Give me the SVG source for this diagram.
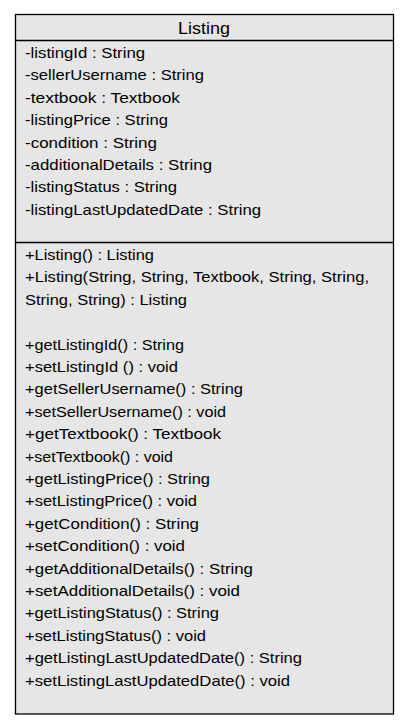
<svg xmlns="http://www.w3.org/2000/svg" width="404" height="724" viewBox="0 0 404 724">
<style>
.t{font-family:"Liberation Sans",Arial,sans-serif;font-size:15px;fill:#000}
.h{font-family:"Liberation Sans",Arial,sans-serif;font-size:17px;fill:#000;text-anchor:middle}
.b{fill:#e6e6e6;stroke:#000;stroke-width:1.3}
.l{stroke:#000;stroke-width:1.3}
</style>
<rect width="404" height="724" fill="#fff"/>
<g id="Listing">
<rect class="b" x="15.5" y="14.5" width="378" height="699.5"/>
<line class="l" x1="15.5" y1="40.5" x2="393.5" y2="40.5"/>
<line class="l" x1="15.5" y1="242.5" x2="393.5" y2="242.5"/>
<text class="h" x="204" y="34" textLength="52" lengthAdjust="spacingAndGlyphs">Listing</text>
<text class="t" x="25" y="58" textLength="120" lengthAdjust="spacingAndGlyphs">-listingId : String</text>
<text class="t" x="25" y="80.4" textLength="179" lengthAdjust="spacingAndGlyphs">-sellerUsername : String</text>
<text class="t" x="25" y="102.8" textLength="155" lengthAdjust="spacingAndGlyphs">-textbook : Textbook</text>
<text class="t" x="25" y="125.2" textLength="143" lengthAdjust="spacingAndGlyphs">-listingPrice : String</text>
<text class="t" x="25" y="147.6" textLength="132" lengthAdjust="spacingAndGlyphs">-condition : String</text>
<text class="t" x="25" y="170" textLength="187" lengthAdjust="spacingAndGlyphs">-additionalDetails : String</text>
<text class="t" x="25" y="192.4" textLength="152" lengthAdjust="spacingAndGlyphs">-listingStatus : String</text>
<text class="t" x="25" y="214.8" textLength="236" lengthAdjust="spacingAndGlyphs">-listingLastUpdatedDate : String</text>
<text class="t" x="25" y="260" textLength="129" lengthAdjust="spacingAndGlyphs">+Listing() : Listing</text>
<text class="t" x="25" y="282.4" textLength="344" lengthAdjust="spacingAndGlyphs">+Listing(String, String, Textbook, String, String,</text>
<text class="t" x="25" y="304.8" textLength="162" lengthAdjust="spacingAndGlyphs">String, String) : Listing</text>
<text class="t" x="25" y="349.6" textLength="159" lengthAdjust="spacingAndGlyphs">+getListingId() : String</text>
<text class="t" x="25" y="372" textLength="153" lengthAdjust="spacingAndGlyphs">+setListingId () : void</text>
<text class="t" x="25" y="394.4" textLength="218" lengthAdjust="spacingAndGlyphs">+getSellerUsername() : String</text>
<text class="t" x="25" y="416.8" textLength="201" lengthAdjust="spacingAndGlyphs">+setSellerUsername() : void</text>
<text class="t" x="25" y="439.2" textLength="196" lengthAdjust="spacingAndGlyphs">+getTextbook() : Textbook</text>
<text class="t" x="25" y="461.6" textLength="148" lengthAdjust="spacingAndGlyphs">+setTextbook() : void</text>
<text class="t" x="25" y="484" textLength="185" lengthAdjust="spacingAndGlyphs">+getListingPrice() : String</text>
<text class="t" x="25" y="506.4" textLength="172" lengthAdjust="spacingAndGlyphs">+setListingPrice() : void</text>
<text class="t" x="25" y="528.8" textLength="174" lengthAdjust="spacingAndGlyphs">+getCondition() : String</text>
<text class="t" x="25" y="551.2" textLength="160" lengthAdjust="spacingAndGlyphs">+setCondition() : void</text>
<text class="t" x="25" y="573.6" textLength="228" lengthAdjust="spacingAndGlyphs">+getAdditionalDetails() : String</text>
<text class="t" x="25" y="596" textLength="215" lengthAdjust="spacingAndGlyphs">+setAdditionalDetails() : void</text>
<text class="t" x="25" y="618.4" textLength="194" lengthAdjust="spacingAndGlyphs">+getListingStatus() : String</text>
<text class="t" x="25" y="640.8" textLength="181" lengthAdjust="spacingAndGlyphs">+setListingStatus() : void</text>
<text class="t" x="25" y="663.2" textLength="277" lengthAdjust="spacingAndGlyphs">+getListingLastUpdatedDate() : String</text>
<text class="t" x="25" y="685.6" textLength="265" lengthAdjust="spacingAndGlyphs">+setListingLastUpdatedDate() : void</text>
</g>
</svg>
